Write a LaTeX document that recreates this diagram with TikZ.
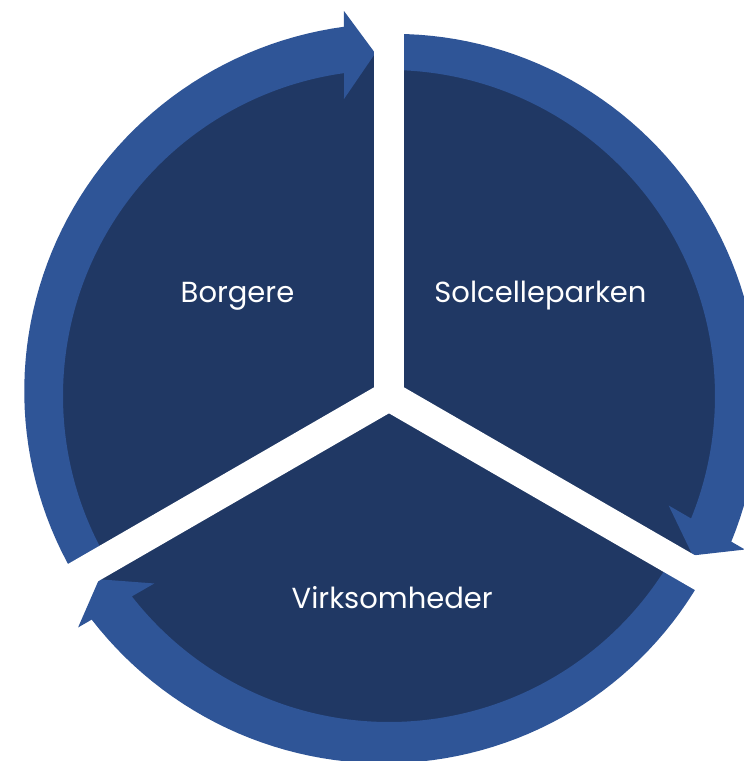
\documentclass[tikz,border=0pt]{standalone}
\usepackage{fontspec}
\setmainfont{Poppins}

\definecolor{sectorblue}{HTML}{203864}
\definecolor{arrowblue}{HTML}{2F5597}

\begin{document}
\begin{tikzpicture}[
            x = 1pt, y = 1pt, % one unit is one pixel
            sector/.style = {fill=sectorblue}, % pie piece
            ringarrow/.style = {fill=arrowblue}, % curved arrow round a piece
            gapcut/.style = {fill=white}, % white cut between the pieces
            segtext/.style = {text=white, anchor=base,
                font=\fontsize{29}{34}\selectfont} % text in a piece
        ]

	\useasboundingbox (-389,-365) rectangle (355,396);

	% pie pieces
	\foreach \a in {90,210,330}
		\fill[sector] (0,0) -- (\a:343) arc[start angle=\a, end angle=\a+120, radius=343] -- cycle;

	% curved arrows, the tip runs clockwise
	\foreach \i in {0,1,2}
		\fill[ringarrow, rotate=-120*\i]
			plot[domain=211:96.95, samples=60] (\x:{362+10*(211-\x)/114.05})
			-- (-45,385) -- (92.3:343) -- (-45,297) -- (97.93:326)
			arc[start angle=97.93, end angle=211, radius=326] -- cycle;

	% white cuts
	\foreach \a in {90,210,330}
		\fill[gapcut, rotate=\a] (0,-15) -- (420,-15) -- (420,15) -- (0,15) -- cycle;

	\node[segtext] (borgere) at (-151.5,93.5) {Borgere};
	\node[segtext] (solcelle) at (151.5,93.5) {Solcelleparken};
	\node[segtext] (virksomheder) at (3.2,-212.3) {Virksomheder};

\end{tikzpicture}
\end{document}
